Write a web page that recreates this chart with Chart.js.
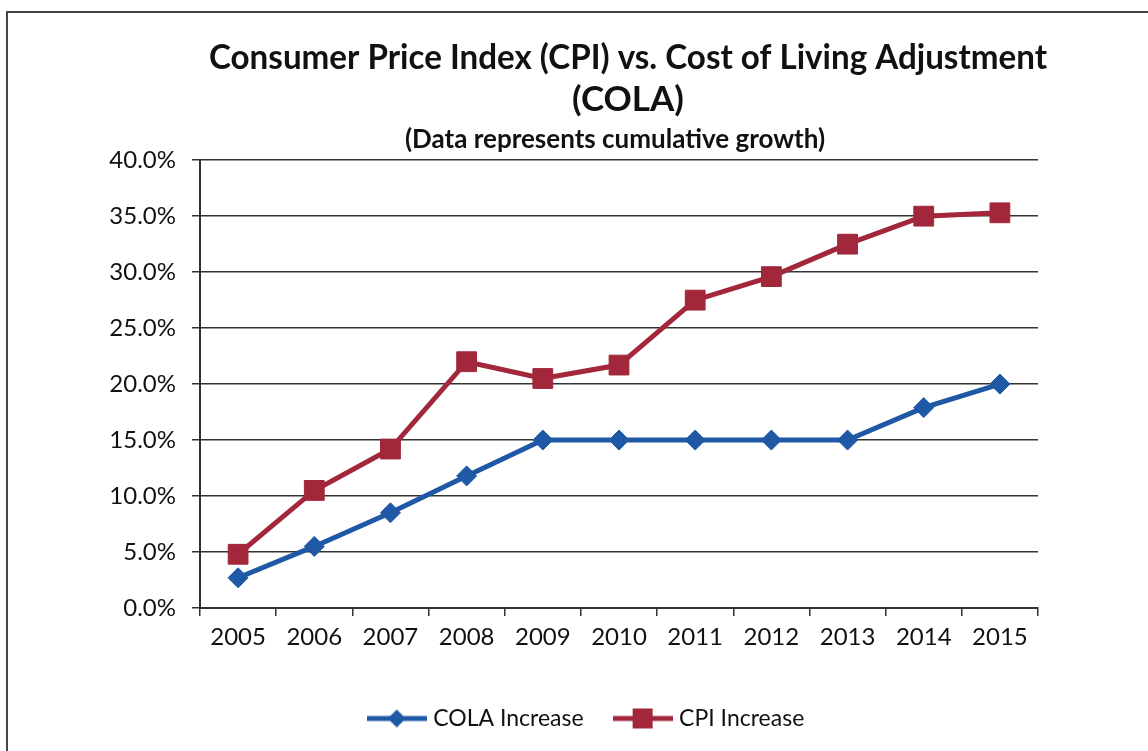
<!DOCTYPE html>
<html>
<head>
<meta charset="utf-8">
<script src="https://cdn.jsdelivr.net/npm/chart.js@4"></script>
<style>
  html, body { margin: 0; padding: 0; background: #fff; }
  #wrap { width: 1148px; height: 751px; }
</style>
</head>
<body>
<div id="wrap"><canvas id="myChart" width="1148" height="751"></canvas></div>
<script>
const years = ['2005', '2006', '2007', '2008', '2009', '2010', '2011', '2012', '2013', '2014', '2015'];
const colaIncrease = [2.7, 5.5, 8.5, 11.8, 15.0, 15.0, 15.0, 15.0, 15.0, 17.9, 20.0];
const cpiIncrease = [4.8, 10.5, 14.2, 22.0, 20.5, 21.7, 27.5, 29.6, 32.5, 35.0, 35.3];
const yTicks = [0, 5, 10, 15, 20, 25, 30, 35, 40];

const blue = '#1f58a5';
const red = '#a2273b';
const font = 'Lato';
const subtitleText = '(Data represents cumulative growth)';

// little legend swatch: line with the marker in the middle
function swatch(color, style) {
  const c = document.createElement('canvas');
  c.width = 60; c.height = 22;
  const g = c.getContext('2d');
  g.strokeStyle = color;
  g.lineWidth = 5;
  g.beginPath(); g.moveTo(0, 11); g.lineTo(60, 11); g.stroke();
  g.fillStyle = color;
  if (style === 'rect') {
    g.fillRect(20, 1, 20, 20);
  } else {
    g.beginPath();
    g.moveTo(30, 2); g.lineTo(39, 11); g.lineTo(30, 20); g.lineTo(21, 11);
    g.closePath(); g.fill();
  }
  return c;
}

function nudge(box, dx) {
  if (!box) return;
  box.left += dx;
  box.right += dx;
}

const frame = {
  id: 'frame',
  afterLayout(chart) {
    // legend and titles in the original sit a bit off the plot centre
    nudge(chart.legend, 19);
    nudge(chart.titleBlock, 9);
    nudge(chart.boxes.find(b => b !== chart.titleBlock && b.options && b.options.text === subtitleText), -4);
  },
  afterDraw(chart) {
    const g = chart.ctx;
    g.save();
    g.strokeStyle = '#444';
    g.lineWidth = 2;
    g.beginPath();
    g.moveTo(7, 751); g.lineTo(7, 12); g.lineTo(1148, 12);
    g.stroke();
    g.restore();
  }
};

const ctx = document.getElementById('myChart');
new Chart(ctx, {
  type: 'line',
  data: {
    labels: years,
    datasets: [{
      label: 'COLA Increase',
      data: colaIncrease,
      borderColor: blue,
      backgroundColor: blue,
      borderWidth: 5,
      pointStyle: 'rectRot',
      pointRadius: 10,
      pointBorderWidth: 1,
      tension: 0
    }, {
      label: 'CPI Increase',
      data: cpiIncrease,
      borderColor: red,
      backgroundColor: red,
      borderWidth: 5,
      pointStyle: 'rect',
      pointRadius: 14,
      pointBorderWidth: 1,
      tension: 0
    }]
  },
  options: {
    responsive: false,
    animation: false,
    layout: { padding: { left: 100, right: 110, top: 0, bottom: 11 } },
    plugins: {
      title: {
        display: true,
        fullSize: false,
        text: ['Consumer Price Index (CPI) vs. Cost of Living Adjustment', '(COLA)'],
        color: '#111',
        font: { family: font, size: 35, weight: 'bold', lineHeight: 1.2 },
        padding: { top: 37, bottom: 3 }
      },
      subtitle: {
        display: true,
        fullSize: false,
        text: subtitleText,
        color: '#111',
        font: { family: font, size: 26, weight: 'bold', lineHeight: 1.2 },
        padding: { top: 0, bottom: 5 }
      },
      legend: {
        position: 'bottom',
        labels: {
          usePointStyle: true,
          pointStyleWidth: 50,
          padding: 34,
          color: '#111',
          font: { family: font, size: 23 },
          generateLabels(chart) {
            return chart.data.datasets.map((ds, i) => ({
              text: ds.label,
              pointStyle: swatch(ds.borderColor, ds.pointStyle),
              fontColor: '#111',
              datasetIndex: i,
              lineWidth: 0
            }));
          }
        }
      },
      tooltip: { enabled: false }
    },
    scales: {
      x: {
        offset: true,
        afterFit(scale) { scale.height = 65; },
        grid: { offset: true, drawOnChartArea: false, drawTicks: true, tickLength: 8, color: '#333', lineWidth: 1.5 },
        border: { color: '#333', width: 2 },
        ticks: { color: '#111', padding: 7, font: { family: font, size: 24 } }
      },
      y: {
        min: 0,
        max: 40,
        afterFit(scale) { scale.width = 100; },
        afterBuildTicks(scale) { scale.ticks = yTicks.map(v => ({ value: v })); },
        grid: { color: '#333', lineWidth: 1.5, tickLength: 8 },
        border: { color: '#333', width: 2 },
        ticks: {
          color: '#111',
          padding: 16,
          font: { family: font, size: 24 },
          callback: v => v.toFixed(1) + '%'
        }
      }
    }
  },
  plugins: [frame]
});
</script>
</body>
</html>
